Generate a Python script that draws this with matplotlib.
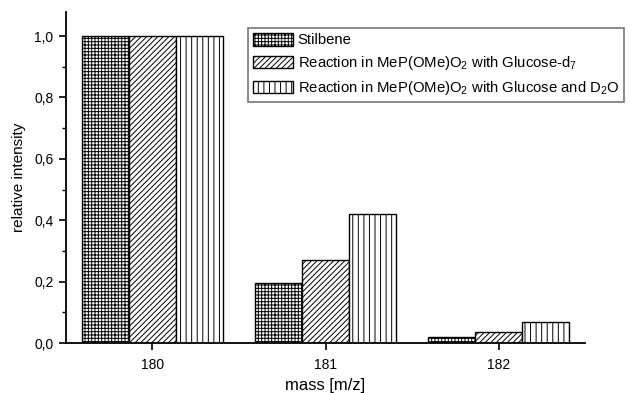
import numpy as np
import matplotlib
matplotlib.use("Agg")
import matplotlib.pyplot as plt
from matplotlib.ticker import MultipleLocator, FuncFormatter

plt.rcParams["font.family"] = ["Liberation Sans", "DejaVu Sans"]
plt.rcParams["mathtext.default"] = "regular"
plt.rcParams["hatch.linewidth"] = 0.7

masses = [180, 181, 182]
stilbene = [1.0, 0.196, 0.019]
glucose_d7 = [1.0, 0.27, 0.035]
glucose_d2o = [1.0, 0.42, 0.067]

series_labels = [
    "Stilbene",
    "Reaction in MeP(OMe)O$_2$ with Glucose-d$_7$",
    "Reaction in MeP(OMe)O$_2$ with Glucose and D$_2$O",
]
hatches = ["+++++", "//////", "|||"]

fig = plt.figure(figsize=(6.37, 3.93), dpi=100, facecolor="white")
ax = fig.add_axes([0.1036, 0.1272, 0.8148, 0.842])

x = np.array(masses, dtype=float)
w = 0.27
for i, (vals, lab, h) in enumerate(zip([stilbene, glucose_d7, glucose_d2o],
                                        series_labels, hatches)):
    ax.bar(x + (i - 1) * w, vals, width=w, facecolor="white",
           edgecolor="black", linewidth=1.0, hatch=h, label=lab)

ax.set_xlim(179.5, 182.5)
ax.set_ylim(0, 1.078)
ax.set_xticks(masses)
ax.set_xticklabels([str(m) for m in masses])
ax.yaxis.set_major_locator(MultipleLocator(0.2))
ax.yaxis.set_minor_locator(MultipleLocator(0.1))
ax.yaxis.set_major_formatter(FuncFormatter(lambda v, p: f"{v:.1f}".replace(".", ",")))

for s in ["top", "right"]:
    ax.spines[s].set_visible(False)
for s in ["left", "bottom"]:
    ax.spines[s].set_linewidth(1.3)
ax.tick_params(axis="both", which="major", direction="out", length=5, width=1.2,
               labelsize=10, colors="black", pad=4)
ax.tick_params(axis="y", which="minor", direction="out", length=3, width=1.0)
ax.tick_params(axis="x", which="minor", bottom=False)
ax.tick_params(axis="x", which="major", pad=6)

ax.set_xlabel("mass [m/z]", fontsize=12, labelpad=4)
ax.set_ylabel("relative intensity", fontsize=11, labelpad=6)

leg = ax.legend(loc="upper left", bbox_to_anchor=(248 / 637, 1 - 28 / 393),
                bbox_transform=fig.transFigure, fontsize=10.7, frameon=True,
                fancybox=False, edgecolor="#555555", handlelength=2.7,
                handleheight=0.9, handletextpad=0.3, labelspacing=0.45,
                borderpad=0.35, borderaxespad=0)
leg.get_frame().set_linewidth(1.2)

fig.savefig("out.png", dpi=100, facecolor="white")
